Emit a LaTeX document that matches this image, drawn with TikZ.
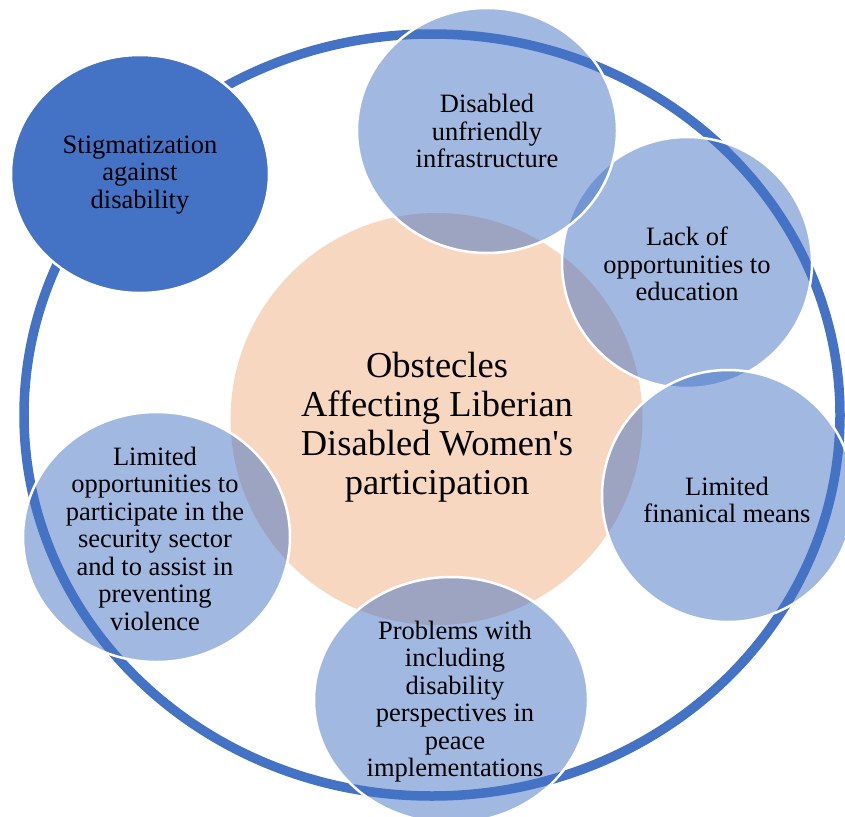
\documentclass[tikz,border=0pt]{standalone}
\usepackage{fontspec}
\setmainfont{Liberation Serif}[Ligatures=TeXOff]
\usepackage{xcolor}
\usepackage{tikz}
\definecolor{accent}{HTML}{4472C4}
\definecolor{peach}{HTML}{F8D7C1}

\begin{document}
\begin{tikzpicture}[
  x=1pt,y=-1pt,
  ring/.style={draw=accent,line width=9.5pt},
  hub/.style={fill=peach},
  bubble/.style={draw=white,line width=2.5pt,fill=accent,fill opacity=.5},
  darkbubble/.style={draw=white,line width=2.5pt,fill=accent},
  lbl/.style={align=center,inner sep=0pt,font=\fontsize{26.5}{27.5}\selectfont},
  hublbl/.style={align=center,inner sep=0pt,font=\fontsize{36.5}{39}\selectfont}
]
\useasboundingbox (0,0) rectangle (845,816);
\clip (0,0) rectangle (845,816);

% outer ring and centre
\draw[ring] (432,415) ellipse [x radius=408,y radius=381];
\fill[hub] (436.5,419) circle [radius=206];

% surrounding bubbles
\draw[darkbubble] (140,174) ellipse [x radius=129,y radius=119];
\draw[bubble] (687,262.5) ellipse [x radius=125,y radius=125.5];
\draw[bubble] (487,130.5) ellipse [x radius=130,y radius=122.5];
\draw[bubble] (728,496) ellipse [x radius=126,y radius=126];
\draw[bubble] (451,700) ellipse [x radius=137,y radius=123];
\draw[bubble] (156.5,537) ellipse [x radius=133.5,y radius=125];

% texts
\node[hublbl] (obstacles) at (437,427) {Obstecles\\Affecting Liberian\\Disabled Women's\\participation};
\node[lbl] (stigma) at (140,175) {Stigmatization\\against\\disability};
\node[lbl] (infra) at (487,131) {Disabled\\unfriendly\\infrastructure};
\node[lbl] (educ) at (687,264) {Lack of\\opportunities to\\education};
\node[lbl] (means) at (727,500) {Limited\\finanical means};
\node[lbl] (peace) at (455,701.5) {Problems with\\including\\disability\\perspectives in\\peace\\implementations};
\node[lbl] (security) at (155,538.5) {Limited\\opportunities to\\participate in the\\security sector\\and to assist in\\preventing\\violence};
\end{tikzpicture}
\end{document}
